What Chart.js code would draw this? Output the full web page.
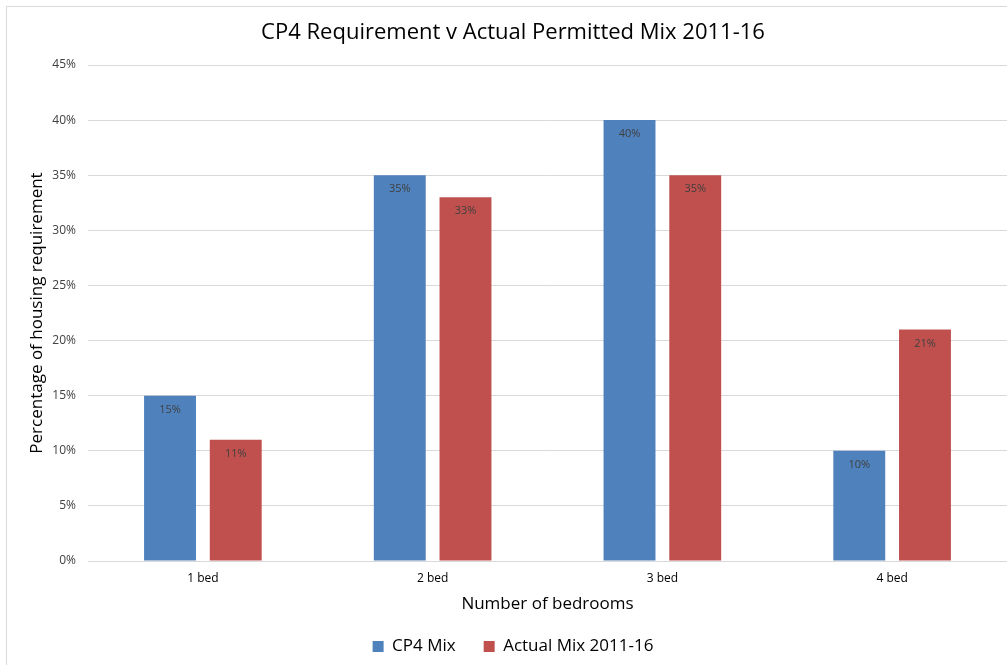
<!DOCTYPE html>
<html>
<head>
<meta charset="utf-8">
<script src="https://cdn.jsdelivr.net/npm/chart.js@4/dist/chart.umd.min.js"></script>
<style>
  body { margin: 0; background: #fff; }
  canvas { display: block; }
</style>
</head>
<body>
<canvas id="graphique" width="1007" height="665"></canvas>
<script>
// Data
const categories = ['1 bed', '2 bed', '3 bed', '4 bed'];
const cp4Mix = [15, 35, 40, 10];
const actualMix = [11, 33, 35, 21];
const seriesNames = ['CP4 Mix', 'Actual Mix 2011-16'];
const yTicks = [0, 5, 10, 15, 20, 25, 30, 35, 40, 45];

const police = '"Open Sans", "Liberation Sans", sans-serif';

// Background and outer frame
const cadre = {
  id: 'cadre',
  beforeDraw(chart) {
    const ctx = chart.ctx;
    ctx.save();
    ctx.fillStyle = '#fff';
    ctx.fillRect(0, 0, chart.width, chart.height);
    ctx.strokeStyle = '#d9d9d9';
    ctx.lineWidth = 1;
    ctx.strokeRect(6.5, 6.5, chart.width + 20, chart.height + 20);
    ctx.restore();
  }
};

// Value labels inside the top of each bar
const etiquettes = {
  id: 'etiquettes',
  afterDatasetsDraw(chart) {
    const ctx = chart.ctx;
    ctx.save();
    ctx.font = '11px ' + police;
    ctx.fillStyle = '#404040';
    ctx.textAlign = 'center';
    ctx.textBaseline = 'middle';
    chart.data.datasets.forEach((ds, i) => {
      chart.getDatasetMeta(i).data.forEach((bar, j) => {
        ctx.fillText(ds.data[j] + '%', bar.x, bar.y + 14);
      });
    });
    ctx.restore();
  }
};

new Chart(document.getElementById('graphique'), {
  type: 'bar',
  data: {
    labels: categories,
    datasets: [
      { label: seriesNames[0], data: cp4Mix, backgroundColor: '#4f81bd' },
      { label: seriesNames[1], data: actualMix, backgroundColor: '#c0504d' }
    ]
  },
  options: {
    responsive: false,
    animation: false,
    categoryPercentage: 0.572,
    barPercentage: 0.79,
    layout: { padding: { left: 19, right: 0, top: 0, bottom: 0 } },
    plugins: {
      title: {
        display: true,
        text: 'CP4 Requirement v Actual Permitted Mix 2011-16',
        color: '#000',
        font: { family: police, size: 22, weight: 'normal' },
        padding: { top: 19.8, bottom: 18.8 }
      },
      legend: {
        position: 'bottom',
        labels: {
          boxWidth: 11,
          boxHeight: 11,
          padding: 28,
          color: '#000',
          font: { family: police, size: 17 }
        }
      },
      tooltip: { enabled: false }
    },
    scales: {
      x: {
        grid: { display: false },
        border: { display: false },
        ticks: { color: '#000', padding: 2, font: { family: police, size: 12 } },
        title: {
          display: true,
          text: 'Number of bedrooms',
          color: '#000',
          font: { family: police, size: 17 },
          padding: { top: 0, bottom: -4 }
        },
        afterFit(s) { s.height = 49; }
      },
      y: {
        min: 0,
        max: 45,
        afterBuildTicks(s) { s.ticks = yTicks.map(v => ({ value: v })); },
        grid: { color: '#d9d9d9', drawTicks: false },
        border: { display: false },
        ticks: {
          color: '#404040',
          padding: 12,
          font: { family: police, size: 12 },
          callback: v => v + '%'
        },
        title: {
          display: true,
          text: 'Percentage of housing requirement',
          color: '#000',
          font: { family: police, size: 17 },
          padding: { top: 8, bottom: 0 }
        },
        afterFit(s) { s.width = 69; }
      }
    }
  },
  plugins: [cadre, etiquettes]
});
</script>
</body>
</html>
